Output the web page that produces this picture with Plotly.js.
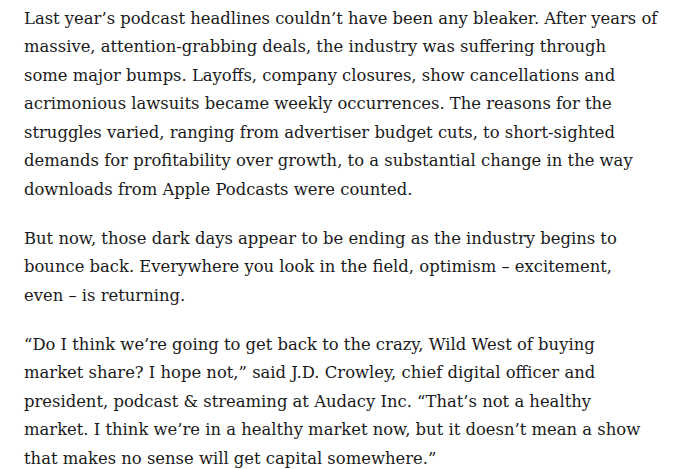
<!DOCTYPE html>
<html>
<head>
<meta charset="utf-8">
<script src="https://cdn.plot.ly/plotly-3.0.1.min.js"></script>
<style>
html,body{margin:0;padding:0;background:#fff;}
#chart{width:680px;height:469px;}
</style>
</head>
<body>
<div id="chart"></div>
<script>
// Paragraph lines, as laid out in the reference
var paragraph1 = [
  "Last year\u2019s podcast headlines couldn\u2019t have been any bleaker. After years of",
  "massive, attention-grabbing deals, the industry was suffering through",
  "some major bumps. Layoffs, company closures, show cancellations and",
  "acrimonious lawsuits became weekly occurrences. The reasons for the",
  "struggles varied, ranging from advertiser budget cuts, to short-sighted",
  "demands for profitability over growth, to a substantial change in the way",
  "downloads from Apple Podcasts were counted."
];
var paragraph2 = [
  "But now, those dark days appear to be ending as the industry begins to",
  "bounce back. Everywhere you look in the field, optimism \u2013 excitement,",
  "even \u2013 is returning."
];
var paragraph3 = [
  "\u201cDo I think we\u2019re going to get back to the crazy, Wild West of buying",
  "market share? I hope not,\u201d said J.D. Crowley, chief digital officer and",
  "president, podcast & streaming at Audacy Inc. \u201cThat\u2019s not a healthy",
  "market. I think we\u2019re in a healthy market now, but it doesn\u2019t mean a show",
  "that makes no sense will get capital somewhere.\u201d"
];
var paragraphs = [paragraph1, paragraph2, paragraph3];

var FONT = 'DejaVu Serif';
var FIRST_LINE_WIDTH = 633;   // px width of the first line in the reference
var LINE_PX = 28.5;           // line pitch
var GAP_PX = 20.5;            // extra space between paragraphs
var FIRST_BASELINE = 25.3;    // baseline of first line (as drawn by Plotly)
var LEFT = 23.5;
var H = 469;

// fit font size so the first line has the reference width
var cv = document.createElement('canvas').getContext('2d');
cv.font = '100px "' + FONT + '"';
var w100 = cv.measureText(paragraph1[0]).width;
var fontSize = Math.round(100 * FIRST_LINE_WIDTH / w100 * 10) / 10;

var PARA_GAP = GAP_PX / LINE_PX;
var xs = [], ys = [], texts = [];
var lineIndex = 0;
paragraphs.forEach(function (p, pi) {
  p.forEach(function (line) {
    xs.push(0);
    ys.push(lineIndex + pi * PARA_GAP);
    texts.push(line);
    lineIndex++;
  });
});

var firstCenter = FIRST_BASELINE - 0.35 * fontSize;
var yTop = -firstCenter / LINE_PX;
var yBottom = (H - firstCenter) / LINE_PX;

var trace = {
  type: 'scatter',
  mode: 'text',
  x: xs,
  y: ys,
  text: texts,
  textposition: 'middle right',
  textfont: {family: FONT, size: fontSize, color: '#1a1a1a'},
  hoverinfo: 'skip',
  cliponaxis: false,
  showlegend: false
};

var layout = {
  width: 680,
  height: 469,
  margin: {l: LEFT, r: 0, t: 0, b: 0, pad: 0},
  paper_bgcolor: '#ffffff',
  plot_bgcolor: '#ffffff',
  xaxis: {range: [0, 1], visible: false, fixedrange: true},
  yaxis: {range: [yBottom, yTop], visible: false, fixedrange: true},
  showlegend: false
};

Plotly.newPlot('chart', [trace], layout, {displayModeBar: false, staticPlot: true});
</script>
</body>
</html>
